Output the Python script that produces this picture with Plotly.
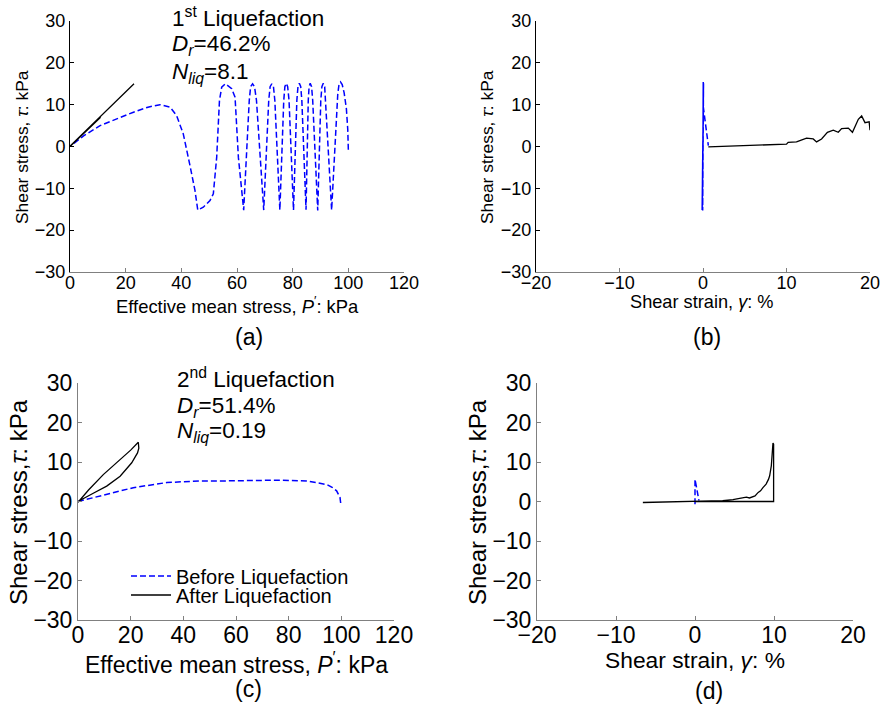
import plotly.graph_objects as go

# ---------------- data ----------------
# (a) 1st liquefaction: stress path
pa_before = [100, 99.8, 99.3, 98.5, 97.8, 97.2, 96.6, 96.2, 94.0,
             92.0, 91.5, 91.0, 90.5, 90.1, 89.0,
             87.2, 86.8, 86.3, 85.9, 85.6, 84.8,
             83.3, 82.9, 82.4, 81.9, 81.5, 80.3,
             78.7, 78.2, 77.7, 77.2, 76.8, 75.4,
             73.6, 73.1, 72.5, 71.9, 71.4, 69.6,
             67.0, 66.3, 65.6, 64.9, 64.4, 62.4,
             60.5, 59.3, 58.1, 55.8, 54.5, 53.7, 52.7, 51.5, 50.3, 47.9, 45.9,
             44.9, 43.0, 40.7, 38.3, 36.0, 32.3, 28.0, 22.8, 10.8, 5.0, 0.0]
ta_before = [-0.8, 4.0, 9.0, 12.8, 14.8, 15.4, 14.6, 12.5, -15.2,
             11.0, 14.3, 15.1, 14.3, 11.0, -15.3,
             11.0, 14.3, 15.1, 14.3, 11.0, -15.1,
             11.0, 14.3, 15.1, 14.3, 11.0, -15.2,
             11.0, 14.3, 15.1, 14.3, 11.0, -15.2,
             11.0, 14.3, 15.0, 14.3, 11.0, -15.2,
             11.0, 14.3, 15.0, 14.3, 11.0, -15.2,
             -2.6, 11.8, 13.8, 15.0, 14.2, 11.0, -2.6, -11.3, -12.9, -14.5, -15.2,
             -10.5, -4.2, 3.0, 7.4, 9.4, 10.0, 9.4, 8.2, 5.0, 2.6, 0.0]
pa_after = [0.0, 11.0, 0.0, 23.0]
ta_after = [0.0, 7.0, 0.1, 15.0]

# (b) 1st liquefaction: stress-strain
gb_before = [0.0, 0.03, -0.03, 0.04, -0.04, 0.04, -0.04, 0.05, -0.05, 0.05,
             -0.05, 0.05, -0.06, 0.05, -0.06, 0.06, -0.1, 0.04, 0.64]
tb_before = [0.0, 15.4, -15.2, 15.1, -15.3, 15.1, -15.1, 15.1, -15.2, 15.1,
             -15.2, 15.0, -15.2, 15.0, -15.2, 15.1, -15.2, 9.4, 0.2]
gb_after = [0.64, 3.0, 6.0, 8.0, 10.0, 10.2, 11.2, 11.6, 12.4, 13.2, 13.6, 14.2,
            14.9, 15.6, 16.2, 16.6, 17.4, 17.9, 18.6, 19.0, 19.4, 19.9, 20.0]
tb_after = [-0.1, 0.1, 0.3, 0.4, 0.57, 1.0, 1.1, 1.4, 2.0, 1.8, 1.1, 1.8,
            3.4, 3.9, 3.4, 4.3, 4.4, 3.4, 6.5, 7.3, 5.7, 5.9, 3.9]

# (c) 2nd liquefaction: stress path
pc_before = [0.0, 8.4, 21.0, 33.7, 46.3, 53.9, 65.0, 76.7, 86.9, 91.9, 94.4, 96.5, 98.2, 99.5, 99.8]
tc_before = [0.0, 1.4, 3.5, 4.8, 5.2, 5.2, 5.3, 5.4, 5.2, 4.7, 4.3, 3.6, 2.7, 1.0, -0.7]
pc_after = [0.0, 4.0, 9.6, 16.0, 20.0, 22.9, 23.1, 22.6, 20.4, 16.0, 10.9, 5.8, 0.0]
tc_after = [-0.2, 2.9, 6.8, 10.6, 13.0, 15.0, 13.5, 12.3, 9.8, 6.4, 3.9, 2.1, 0.0]

# (d) 2nd liquefaction: stress-strain
gd_before = [0.0, 0.0, 0.2, 0.5]
td_before = [-0.7, 5.6, 3.5, 0.2]
gd_after = [-6.6, -3.0, 0.0, 2.0, 3.5, 4.8, 5.5, 6.1, 6.5, 6.9, 7.3, 7.6, 8.0, 8.3,
            8.6, 9.0, 9.3, 9.45, 9.66, 9.87, 9.95, 9.95, 0.0]
td_after = [-0.25, -0.1, 0.0, 0.1, 0.2, 0.5, 0.8, 1.0, 1.1, 0.9, 1.2, 1.4, 2.3, 2.7,
            3.5, 4.4, 5.6, 6.5, 9.0, 14.8, 14.5, 0.0, 0.0]

p_ticks = [0, 20, 40, 60, 80, 100, 120]
g_ticks = [-20, -10, 0, 10, 20]
t_ticks = [-30, -20, -10, 0, 10, 20, 30]

# ---------------- figure ----------------
W, H = 882, 706
FONT = "Liberation Sans, Arial, sans-serif"
BLUE = "#0000ff"
DASH = "6px,3px"

fig = go.Figure()

def add(x, y, xa, ya, before, name=None, legend=None):
    fig.add_trace(go.Scatter(
        x=x, y=y, mode="lines", xaxis=xa, yaxis=ya,
        line=dict(color=BLUE if before else "black",
                  width=1.5 if before else 1.3,
                  dash=DASH if before else "solid"),
        name=name, showlegend=legend is not None,
        legend=legend if legend else "legend", hoverinfo="skip"))

add(pa_before, ta_before, "x", "y", True)
add(pa_after, ta_after, "x", "y", False)
add(gb_before, tb_before, "x2", "y2", True)
add(gb_after, tb_after, "x2", "y2", False)
add(pc_before, tc_before, "x3", "y3", True, "Before Liquefaction", "legend")
add(pc_after, tc_after, "x3", "y3", False, "After Liquefaction", "legend2")
add(gd_before, td_before, "x4", "y4", True)
add(gd_after, td_after, "x4", "y4", False)

def px(x):
    return x / W

def py(y):
    return 1 - y / H

def axis(dom, rng, ticks, size, color, anchor, standoff=0):
    return dict(domain=dom, range=rng, tickvals=ticks, showgrid=False, zeroline=False,
                showline=True, linecolor=color, linewidth=1, ticks="inside", ticklen=4,
                tickcolor=color, tickwidth=1, tickfont=dict(size=size, color="black"),
                anchor=anchor, fixedrange=True, automargin=False,
                ticklabelstandoff=standoff)

GRAY = "#808080"
fig.update_layout(
    template="none",
    width=W, height=H, margin=dict(l=0, r=0, t=0, b=0, autoexpand=False), autosize=False,
    paper_bgcolor="white", plot_bgcolor="white",
    font=dict(family=FONT, color="black"),
    xaxis=axis([px(70), px(404)], [0, 120], p_ticks, 18, GRAY, "y", -6),
    yaxis=axis([py(272), py(21)], [-30, 30], t_ticks, 18, "black", "x"),
    xaxis2=axis([px(536), px(870)], [-20, 20], g_ticks, 18, GRAY, "y2", -6),
    yaxis2=axis([py(272), py(21)], [-30, 30], t_ticks, 18, "black", "x2"),
    xaxis3=axis([px(78), px(394)], [0, 120], p_ticks, 23, GRAY, "y3", -6),
    yaxis3=axis([py(620), py(383)], [-30, 30], t_ticks, 23, GRAY, "x3"),
    xaxis4=axis([px(537), px(853)], [-20, 20], g_ticks, 23, GRAY, "y4", -6),
    yaxis4=axis([py(620), py(383)], [-30, 30], t_ticks, 23, GRAY, "x4"),
    legend=dict(x=px(126), y=py(576), xanchor="left", yanchor="middle",
                font=dict(size=20), bgcolor="rgba(0,0,0,0)", itemwidth=40),
    legend2=dict(x=px(126), y=py(595), xanchor="left", yanchor="middle",
                 font=dict(size=20), bgcolor="rgba(0,0,0,0)", itemwidth=40),
)

def note(text, x, y, size, angle=0, xanchor="center", align="center"):
    fig.add_annotation(text=text, x=px(x), y=py(y), xref="paper", yref="paper",
                       showarrow=False, textangle=angle, xanchor=xanchor,
                       yanchor="middle", align=align, font=dict(size=size, family=FONT))

# axis titles
note("Effective mean stress, <i>P</i><sup>′</sup>: kPa", 237, 305, 18.4)
note("Shear strain, <i>γ</i>: %", 702, 302, 18.2)
note("Effective mean stress, <i>P</i><sup>′</sup>: kPa", 236, 663, 23)
note("Shear strain, <i>γ</i>: %", 695, 660, 22.8)
note("Shear stress, <i>τ</i>: kPa", 22, 147, 17.4, -90)
note("Shear stress, <i>τ</i>: kPa", 487, 147, 17.4, -90)
note("Shear stress,<i>τ</i>: kPa", 18, 502, 24, -90)
note("Shear stress,<i>τ</i>: kPa", 477, 502, 24, -90)

# captions
note("(a)", 249, 337, 23)
note("(b)", 707, 337, 23)
note("(c)", 248, 689, 23)
note("(d)", 709, 691, 23)

# in-plot text
note("1<sup>st</sup> Liquefaction", 170, 17, 22.5, xanchor="left", align="left")
note("<i>D<sub>r</sub></i>=46.2%", 170, 45, 22.5, xanchor="left", align="left")
note("<i>N<sub>liq</sub></i>=8.1", 170, 73, 22.5, xanchor="left", align="left")
note("2<sup>nd</sup> Liquefaction", 175, 378, 22.5, xanchor="left", align="left")
note("<i>D<sub>r</sub></i>=51.4%", 175, 407, 22.5, xanchor="left", align="left")
note("<i>N<sub>liq</sub></i>=0.19", 175, 432, 22.5, xanchor="left", align="left")

fig.write_html("out.html", config={"displayModeBar": False},
               post_script="document.body.style.margin='0px';")
